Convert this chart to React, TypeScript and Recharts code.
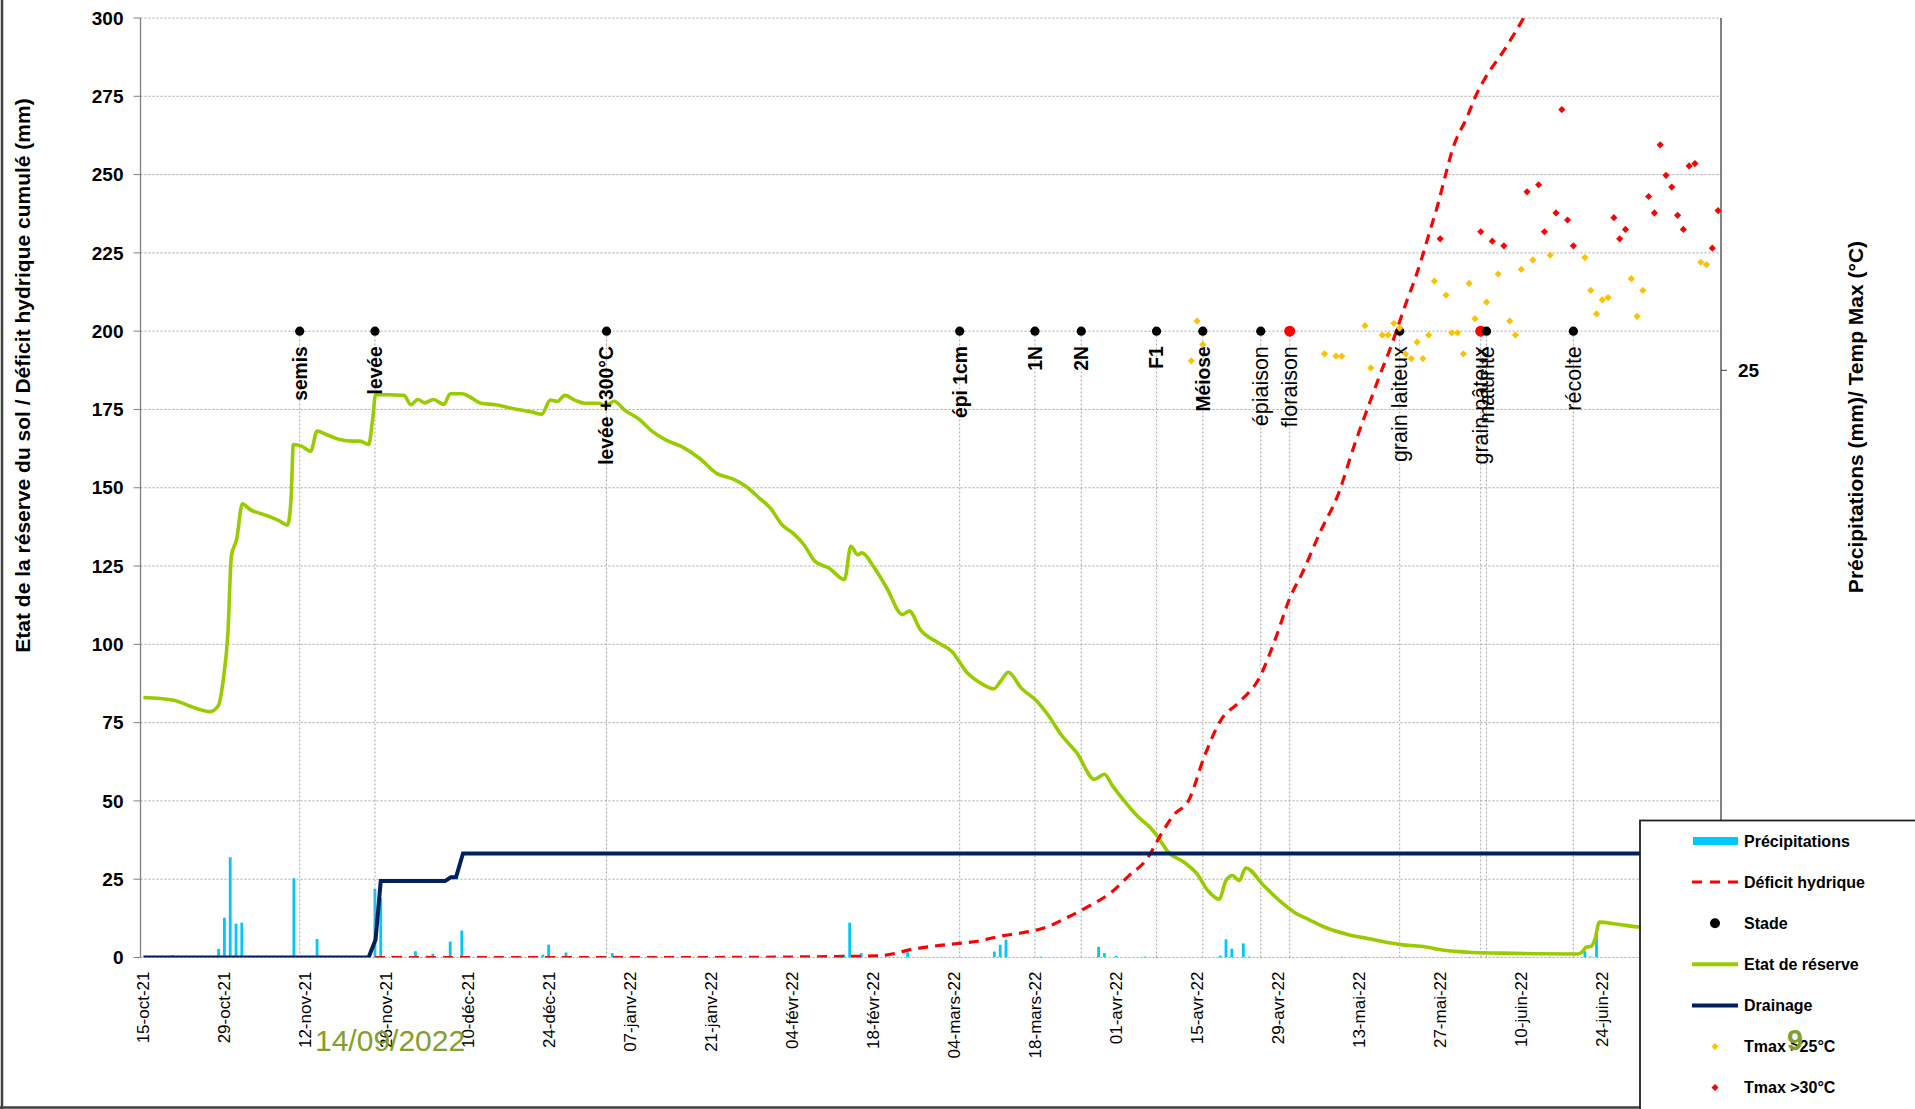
import React from 'react';
import { ComposedChart, Line, Bar, Scatter, XAxis, YAxis, CartesianGrid, ReferenceLine } from 'recharts';

// x values are days counted from 15-oct-21
const tickDays = [0, 14, 28, 42, 56, 70, 84, 98, 112, 126, 140, 154, 168, 182, 196, 210, 224, 238, 252, 266];
const tickLabels = ['15-oct-21', '29-oct-21', '12-nov-21', '26-nov-21', '10-déc-21', '24-déc-21', '07-janv-22', '21-janv-22', '04-févr-22', '18-févr-22', '04-mars-22', '18-mars-22', '01-avr-22', '15-avr-22', '29-avr-22', '13-mai-22', '27-mai-22', '10-juin-22', '24-juin-22', '08-juil-22'];
const leftTicks = [0, 25, 50, 75, 100, 125, 150, 175, 200, 225, 250, 275, 300];
const rightTicks = [25];

const precipitations: [number, number][] = [
  [5, 0.75], [13, 2.7], [14, 12.7], [15, 32], [16, 10.8], [17, 11.1], [26, 25.3], [30, 5.9], [40, 21.9], [41, 18.9],
  [43, 0.6], [47, 2], [49, 0.6], [50, 1.2], [53, 5.1], [55, 8.6], [61, 0.3], [69, 0.9], [70, 4.1], [71, 0.5], [73, 1.6],
  [81, 1.4], [121, 0.9], [122, 11.1], [124, 1.4], [132, 1.7], [147, 1.9], [148, 4.1], [149, 5.7], [155, 0.3], [165, 3.4],
  [166, 1.4], [168, 0.5], [173, 0.3], [175, 0.2], [186, 0.6], [187, 5.8], [188, 2.8], [190, 4.5], [191, 0.3], [201, 0.2],
  [207, 0.2], [211, 0.2], [215, 0.2], [218, 0.2], [229, 0.2], [234, 0.2], [239, 0.2], [243, 0.2], [249, 2.0], [250, 0.3], [251, 7.4],
];

const reserve: [number, number][] = [
  [0, 83], [5, 82.2], [9.2, 79.5], [11.5, 78.5], [12.9, 80.3], [13.8, 88.8], [14.6, 103.7], [15.2, 128.2], [16.1, 133.5],
  [17.1, 144.9], [18.4, 143.1], [21.5, 141], [23.5, 139.4], [24.9, 138.1], [25.5, 146.3], [25.9, 163.8], [27.3, 163.3],
  [28.9, 161.7], [30, 168.1], [31.6, 167], [33.9, 165.4], [36.2, 164.9], [37.4, 164.9], [38.9, 163.8], [39.6, 171.8],
  [40.1, 179.8], [45, 179.5], [46.2, 176.5], [47.4, 178.2], [48.6, 177.1], [50.1, 178.2], [51.9, 176.6], [53, 180],
  [55.1, 180], [56.1, 179.3], [58.3, 177], [60.8, 176.5], [64, 175.2], [67.1, 174.2], [68.8, 173.5], [70.3, 178],
  [71.5, 177.6], [72.8, 179.5], [74.5, 178], [76.2, 177], [78.7, 177], [79.8, 176.2], [81.3, 177.6], [83.2, 174.7],
  [85.6, 171.9], [87.9, 168], [90.2, 165.3], [92.9, 163.2], [96, 159.5], [99.1, 154.5], [101.8, 152.8], [104.1, 150.4],
  [106.4, 146.7], [108.3, 143.5], [110.3, 138.2], [112.2, 135.5], [114.1, 131.8], [116, 126.5], [118.4, 124.4],
  [121.1, 120.7], [122.2, 131.3], [123.4, 128.6], [124.1, 129.2], [126.1, 124.9], [128.4, 118], [131.1, 109.5],
  [132.3, 110.6], [134.2, 104.7], [137.3, 100.5], [139.6, 97.8], [142.3, 90.9], [145, 87.2], [146.9, 85.8], [148.1, 88.3],
  [149.4, 91.1], [151.6, 86.1], [154.3, 81.9], [156.2, 77.6], [158.5, 71.2], [161.2, 65.4], [164.3, 56.9], [166, 58.5],
  [167.4, 54.8], [169.7, 49.4], [172, 44.6], [173.9, 41.5], [175, 39.1], [177, 33.7], [179.7, 30.5], [182, 26.7],
  [183.9, 21.3], [185.8, 18.6], [187, 24.6], [188.1, 26.2], [189.3, 24.6], [190.4, 28.6], [193.5, 23], [196.6, 17.6],
  [198.9, 14.3], [201.2, 12.2], [204.3, 9.5], [208.2, 7.3], [212, 5.9], [217.3, 4.1], [220.7, 3.6], [224.7, 2.3],
  [228.8, 1.7], [234.5, 1.4], [240.3, 1.2], [247.8, 1.1], [248.6, 1.9], [249.2, 3.3], [250.1, 3.6], [250.7, 5.7],
  [251.5, 11.3], [254.7, 10.6], [258.7, 9.7], [265, 9.3], [272.5, 9.0],
];

const deficit: [number, number][] = [
  [40, 0], [96, 0], [119.5, 0.3], [127, 0.5], [129.5, 1.2], [132.5, 2.5], [136.4, 3.6], [140.3, 4.4], [144.1, 5.2],
  [148, 6.8], [151.8, 7.9], [155.7, 9.5], [159.5, 12.7], [163.4, 16.5], [167.2, 20.8], [170.3, 26.2], [173.4, 31.6],
  [175.7, 39.1], [178, 45.6], [180.5, 50], [183.3, 64.4], [186, 75.5], [189.5, 81.9], [192.6, 88.8], [195.7, 102.6],
  [198, 114.7], [200.1, 122.5], [203.3, 136], [206.4, 148], [209.1, 163.2], [212, 178.1], [213.7, 186.6], [215.5, 195.1],
  [216.9, 202.6], [218.3, 210], [219.8, 217.5], [220.9, 223.8], [222.1, 231.3], [223.5, 239.8], [225, 250.5],
  [226.1, 257.9], [228.7, 268.6], [230.1, 275], [231.6, 280.3], [235.1, 289.9], [238.4, 300], [240.5, 307],
];

const drainage: [number, number][] = [
  [0, 0], [38.9, 0], [40.1, 5.7], [41, 24.4], [52.1, 24.4], [53.1, 25.6], [54, 25.6], [55.2, 33.2], [272.5, 33.2],
];

const stageLevel = 200;
const stageNames = ['semis', 'levée', 'levée +300°C', 'épi 1cm', '1N', '2N', 'F1', 'Méiose', 'épiaison', 'floraison', 'grain laiteux', 'grain pâteux', 'maturité', 'récolte'];
const stageDays = [27, 40, 80, 141, 154, 162, 175, 183, 193, 198, 217, 231, 232, 247];

const tmax25: [number, number][] = [
  [181, 25.4], [182, 27.1], [183, 26.1], [204, 25.7], [206, 25.6], [207, 25.6], [211, 26.9], [212, 25.1], [214, 26.5],
  [215, 26.5], [216, 27.0], [217, 26.8], [218, 25.7], [219, 25.5], [220, 26.2], [221, 25.5], [222, 26.5], [223, 28.8],
  [225, 28.2], [226, 26.6], [227, 26.6], [228, 25.7], [229, 28.7], [230, 27.2], [232, 27.9], [234, 29.1], [236, 27.1],
  [237, 26.5], [238, 29.3], [240, 29.7], [243, 29.9], [249, 29.8], [250, 28.4], [251, 27.4], [252, 28.0], [253, 28.1],
  [257, 28.9], [258, 27.3], [259, 28.4], [269, 29.6], [270, 29.5],
];

const tmax30: [number, number][] = [
  [224, 30.6], [231, 30.9], [233, 30.5], [235, 30.3], [239, 32.6], [241, 32.9], [242, 30.9], [244, 31.7], [245, 36.1],
  [246, 31.4], [247, 30.3], [254, 31.5], [255, 30.6], [256, 31.0], [260, 32.4], [261, 31.7], [262, 34.6], [263, 33.3],
  [264, 32.8], [265, 31.6], [266, 31.0], [267, 33.7], [268, 33.8], [271, 30.2], [272, 31.8],
];

// ---------- build the table used by the bar / line series ----------
type Row = { day: number; precip?: number; reserve?: number; deficit?: number; drainage?: number };
const rowMap = new Map<number, Row>();
const put = (list: [number, number][], key: keyof Row) => {
  list.forEach(([d, v]) => {
    const r = rowMap.get(d) || { day: d };
    (r as any)[key] = v;
    rowMap.set(d, r);
  });
};
put(precipitations, 'precip');
put(reserve, 'reserve');
put(deficit, 'deficit');
put(drainage, 'drainage');
const table: Row[] = Array.from(rowMap.values()).sort((a, b) => a.day - b.day);

const stageData = stageNames.map((name, i) => ({ day: stageDays[i], stage: stageLevel, name }));
const t25Data = tmax25.map(([day, t]) => ({ day, t }));
const t30Data = tmax30.map(([day, t]) => ({ day, t }));

// ---------- styles ----------
const FONT = "'Liberation Sans', Arial, sans-serif";
const GREEN = '#99CC00';
const RED = '#FF0000';
const NAVY = '#002060';
const CYAN = '#00C8FA';
const ORANGE = '#FFC000';
const highlighted = new Set(['floraison', 'grain pâteux']);
const regularStages = new Set(['épiaison', 'floraison', 'grain laiteux', 'grain pâteux', 'maturité', 'récolte']);

const DateTick = (props: any) => {
  const { x, y, payload } = props;
  const i = tickDays.indexOf(payload.value);
  return (
    <text x={x} y={y} transform={`rotate(-90 ${x} ${y})`} textAnchor="end" dy="0.35em" fontSize={17} fill="#000" fontFamily={FONT}>
      {tickLabels[i]}
    </text>
  );
};

const PrecipBar = (props: any) => {
  const { x, y, width, height } = props;
  if (x == null || y == null || !height || !(height > 0)) return null;
  const cx = x + (width || 0) / 2;
  return <rect x={cx - 1.4} y={y} width={2.8} height={height} fill={CYAN} />;
};

const StageShape = (props: any) => {
  const { cx, cy, payload } = props;
  if (cx == null || cy == null) return null;
  const isRed = highlighted.has(payload.name);
  const bold = !regularStages.has(payload.name);
  const ty = cy + 15;
  return (
    <g>
      <circle cx={cx} cy={cy} r={isRed ? 5.5 : 4.6} fill={isRed ? RED : '#000'} />
      <text x={cx} y={ty} transform={`rotate(-90 ${cx} ${ty})`} textAnchor="end" dy="0.36em"
        fontSize={bold ? 19.3 : 21.5} fontWeight={bold ? 'bold' : 'normal'} fill="#000" fontFamily={FONT}>
        {payload.name}
      </text>
    </g>
  );
};

const diamond = (color: string, r: number) => (props: any) => {
  const { cx, cy } = props;
  if (cx == null || cy == null) return null;
  return <path d={`M${cx},${cy - r}L${cx + r},${cy}L${cx},${cy + r}L${cx - r},${cy}Z`} fill={color} />;
};

const legendItems = [
  { label: 'Précipitations', kind: 'bar', color: CYAN },
  { label: 'Déficit hydrique', kind: 'dash', color: RED },
  { label: 'Stade', kind: 'dot', color: '#000' },
  { label: 'Etat de réserve', kind: 'line', color: GREEN },
  { label: 'Drainage', kind: 'line', color: NAVY },
  { label: 'Tmax >25°C', kind: 'diamond', color: ORANGE },
  { label: 'Tmax >30°C', kind: 'diamond', color: RED },
];

export default function App() {
  return (
    <div style={{ position: 'absolute', left: 0, top: 0, width: 1915, height: 1109, background: '#fff', overflow: 'hidden' }}>
      <ComposedChart width={1915} height={1109} data={table} margin={{ top: 18, right: 114, bottom: 51.5, left: 60.5 }}>
        <CartesianGrid yAxisId="left" vertical={false} stroke="#A6A6A6" strokeDasharray="2 2" />
        <XAxis dataKey="day" type="number" domain={[-0.5, 272.5]} ticks={tickDays} interval={0} allowDataOverflow
          axisLine={false} tickLine={false} tickSize={0} tickMargin={14} height={100} tick={<DateTick />} />
        <YAxis yAxisId="left" domain={[0, 300]} ticks={leftTicks} interval={0} allowDataOverflow width={80}
          axisLine={{ stroke: '#808080', strokeWidth: 1.3 }} tickLine={{ stroke: '#808080' }} tickSize={7} tickMargin={10}
          tick={{ fontSize: 19, fontWeight: 'bold', fill: '#000', fontFamily: FONT }} />
        <YAxis yAxisId="right" orientation="right" domain={[0, 40]} ticks={rightTicks} interval={0} width={80}
          axisLine={{ stroke: '#404040', strokeWidth: 1.3 }} tickLine={{ stroke: '#404040' }} tickSize={6} tickMargin={11}
          tick={{ fontSize: 19, fontWeight: 'bold', fill: '#000', fontFamily: FONT }} />
        {stageDays.map((d, i) => (
          <ReferenceLine key={'s' + i} yAxisId="left" segment={[{ x: d, y: 0 }, { x: d, y: stageLevel }]}
            stroke="#A6A6A6" strokeDasharray="2 2" strokeWidth={1} />
        ))}
        <Bar yAxisId="left" dataKey="precip" fill={CYAN} barSize={3} shape={<PrecipBar />} isAnimationActive={false} />
        <Line yAxisId="left" type="monotone" dataKey="reserve" stroke={GREEN} strokeWidth={3.6} dot={false} activeDot={false}
          connectNulls isAnimationActive={false} />
        <Line yAxisId="left" type="monotone" dataKey="deficit" stroke={RED} strokeWidth={3.2} strokeDasharray="10 7" dot={false}
          activeDot={false} connectNulls isAnimationActive={false} />
        <Line yAxisId="left" type="linear" dataKey="drainage" stroke={NAVY} strokeWidth={4} dot={false} activeDot={false}
          connectNulls isAnimationActive={false} />
        <Scatter yAxisId="left" data={stageData} dataKey="stage" shape={<StageShape />} isAnimationActive={false} />
        <Scatter yAxisId="right" data={t25Data} dataKey="t" shape={diamond(ORANGE, 3.6)} isAnimationActive={false} />
        <Scatter yAxisId="right" data={t30Data} dataKey="t" shape={diamond(RED, 3.6)} isAnimationActive={false} />
      </ComposedChart>

      <svg width={1915} height={1109} style={{ position: 'absolute', left: 0, top: 0, pointerEvents: 'none' }}>
        <text x={22} y={375.5} transform="rotate(-90 22 375.5)" textAnchor="middle" dy="0.36em" fontSize={21}
          fontWeight="bold" fontFamily={FONT} fill="#000">
          Etat de la réserve du sol / Déficit hydrique cumulé (mm)
        </text>
        <text x={1855} y={417} transform="rotate(-90 1855 417)" textAnchor="middle" dy="0.36em" fontSize={21}
          fontWeight="bold" fontFamily={FONT} fill="#000">
          Précipitations (mm)/ Temp Max (°C)
        </text>
        <text x={315} y={1051} fontSize={30} fontFamily={FONT} fill="#84A02C">14/09/2022</text>

        {/* frame */}
        <line x1={2} y1={0} x2={2} y2={1109} stroke="#404040" strokeWidth={2.5} />
        <line x1={0} y1={1107.5} x2={1915} y2={1107.5} stroke="#404040" strokeWidth={2.5} />

        {/* legend */}
        <rect x={1640} y={820.5} width={290} height={300} fill="#fff" stroke="#222" strokeWidth={1.8} />
        {legendItems.map((it, i) => {
          const cy = 841 + i * 41.1;
          let icon: any = null;
          if (it.kind === 'bar') icon = <rect x={1693} y={cy - 4} width={45} height={8} fill={it.color} />;
          else if (it.kind === 'dash') icon = <line x1={1692} y1={cy} x2={1738} y2={cy} stroke={it.color} strokeWidth={3} strokeDasharray="10 8" />;
          else if (it.kind === 'dot') icon = <circle cx={1715} cy={cy} r={5} fill={it.color} />;
          else if (it.kind === 'line') icon = <line x1={1692} y1={cy} x2={1738} y2={cy} stroke={it.color} strokeWidth={4} />;
          else icon = <path d={`M1715,${cy - 3.5}L1718.5,${cy}L1715,${cy + 3.5}L1711.5,${cy}Z`} fill={it.color} />;
          return (
            <g key={it.label}>
              {icon}
              <text x={1744} y={cy} dy="0.36em" fontSize={16} fontWeight="bold" fontFamily={FONT} fill="#000">{it.label}</text>
            </g>
          );
        })}
        <text x={1787} y={1050} fontSize={29} fontWeight="bold" fontFamily={FONT} fill="#84A02C">9</text>
      </svg>
    </div>
  );
}
